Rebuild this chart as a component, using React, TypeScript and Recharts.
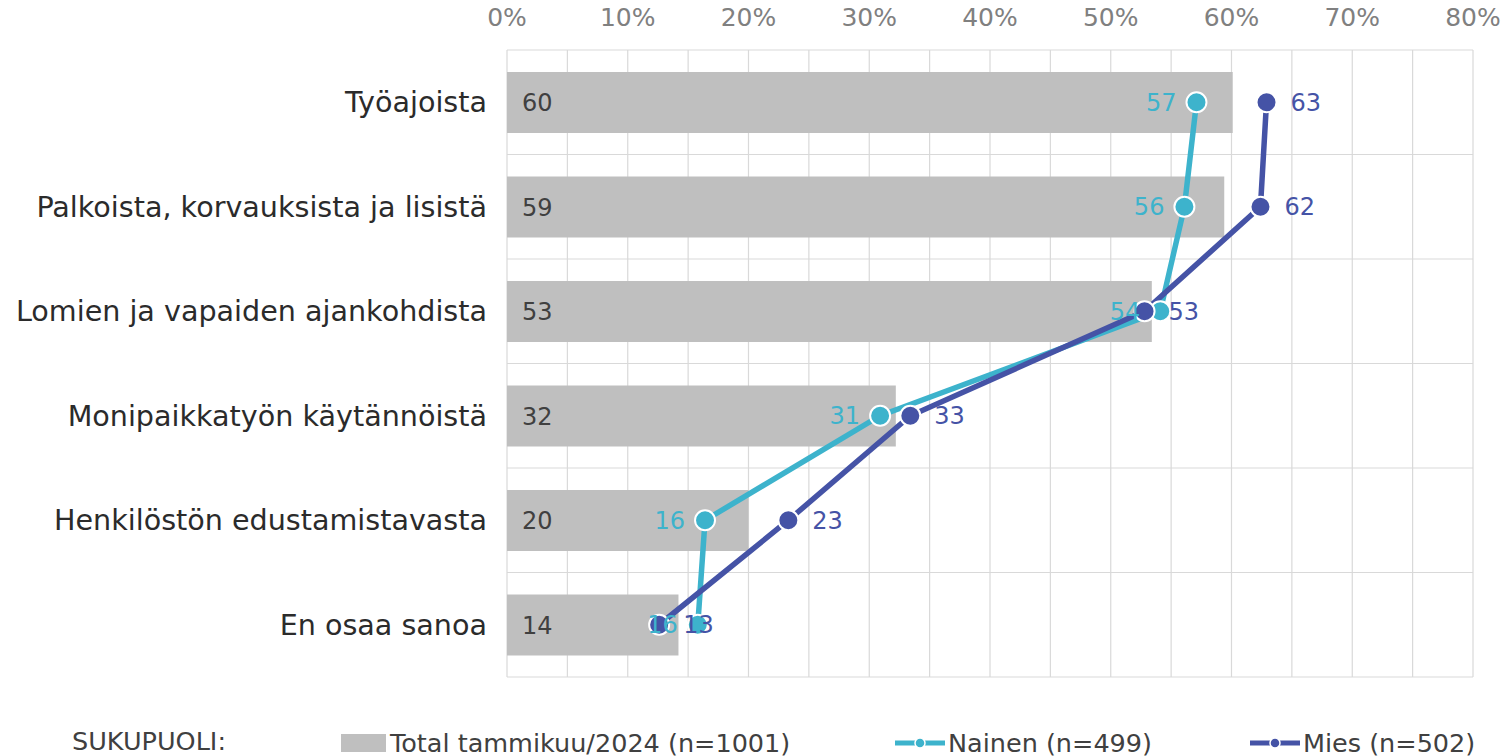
import React from "react";
import {
  ComposedChart,
  Bar,
  Line,
  XAxis,
  YAxis,
  CartesianGrid,
  LabelList,
} from "recharts";

const categories = [
  "Työajoista",
  "Palkoista, korvauksista ja lisistä",
  "Lomien ja vapaiden ajankohdista",
  "Monipaikkatyön käytännöistä",
  "Henkilöstön edustamistavasta",
  "En osaa sanoa",
];
const total = [60.1, 59.4, 53.4, 32.2, 20.0, 14.2];
const nainen = [57.1, 56.1, 54.1, 30.9, 16.4, 15.8];
const mies = [62.9, 62.4, 52.8, 33.4, 23.3, 12.6];
const xTicks = [0, 5, 10, 15, 20, 25, 30, 35, 40, 45, 50, 55, 60, 65, 70, 75, 80];

const GRAY = "#BFBFBF";
const CYAN = "#3DB3CC";
const BLUE = "#4553A6";
const FONT = "'DejaVu Sans', Verdana, sans-serif";

const data = categories.map((name, i) => ({
  name,
  total: total[i],
  nainen: nainen[i],
  mies: mies[i],
}));

const round = (v: any) => Math.round(Number(v));

function LegendBox() {
  const txt = { fontSize: 25.5, color: "#404040", fontFamily: FONT, lineHeight: "30px" };
  const lineIcon = (c: string) => (
    <svg width={50} height={20} style={{ marginRight: 3 }}>
      <line x1={0} y1={10} x2={50} y2={10} stroke={c} strokeWidth={5} />
      <circle cx={25} cy={10} r={5} fill={c} stroke="#fff" strokeWidth={1.5} />
    </svg>
  );
  return (
    <div style={{ position: "absolute", left: 0, top: 726, height: 30, width: 1507 }}>
      <span style={{ ...txt, position: "absolute", left: 72, top: 0 }}>SUKUPUOLI:</span>
      <div style={{ position: "absolute", left: 341, top: 2, display: "flex", alignItems: "center" }}>
        <div style={{ width: 45, height: 18, background: GRAY, marginRight: 4 }} />
        <span style={txt}>Total tammikuu/2024 (n=1001)</span>
      </div>
      <div style={{ position: "absolute", left: 895, top: 2, display: "flex", alignItems: "center" }}>
        {lineIcon(CYAN)}
        <span style={txt}>Nainen (n=499)</span>
      </div>
      <div style={{ position: "absolute", left: 1250, top: 2, display: "flex", alignItems: "center" }}>
        {lineIcon(BLUE)}
        <span style={txt}>Mies (n=502)</span>
      </div>
    </div>
  );
}

export default function App() {
  return (
    <div style={{ position: "absolute", left: 0, top: 0, width: 1507, height: 756, background: "#fff" }}>
      <ComposedChart
        width={1507}
        height={756}
        data={data}
        layout="vertical"
        margin={{ top: 20, right: 34, bottom: 79, left: 0 }}
        barCategoryGap={22}
      >
        <CartesianGrid
          stroke="#D9D9D9"
          strokeWidth={1.2}
          horizontalCoordinatesGenerator={({ offset }: any) =>
            categories.map((_, i) => offset.top + (offset.height * i) / categories.length).concat(offset.top + offset.height)
          }
        />
        <XAxis
          type="number"
          orientation="top"
          domain={[0, 80]}
          ticks={xTicks}
          interval={0}
          height={30}
          axisLine={false}
          tickLine={false}
          tickMargin={18}
          tickFormatter={(v: number) => (v % 10 === 0 ? `${v}%` : "")}
          tick={{ fill: "#808080", fontSize: 25, fontFamily: FONT }}
        />
        <YAxis
          type="category"
          dataKey="name"
          width={507}
          axisLine={false}
          tickLine={false}
          tickMargin={14}
          tick={{ fill: "#2b2b2b", fontSize: 28.6, fontFamily: FONT }}
        />
        <Bar dataKey="total" fill={GRAY} barSize={61} isAnimationActive={false}>
          <LabelList
            dataKey="total"
            position="insideLeft"
            offset={15}
            formatter={round}
            style={{ fill: "#404040", fontSize: 24, fontFamily: FONT }}
          />
        </Bar>
        <Line
          dataKey="nainen"
          stroke={CYAN}
          strokeWidth={5.5}
          dot={{ r: 10, fill: CYAN, stroke: "#fff", strokeWidth: 2 }}
          isAnimationActive={false}
        >
          <LabelList
            dataKey="nainen"
            position="left"
            offset={20}
            formatter={round}
            style={{ fill: CYAN, fontSize: 24, fontFamily: FONT }}
          />
        </Line>
        <Line
          dataKey="mies"
          stroke={BLUE}
          strokeWidth={5.5}
          dot={{ r: 10, fill: BLUE, stroke: "#fff", strokeWidth: 2 }}
          isAnimationActive={false}
        >
          <LabelList
            dataKey="mies"
            position="right"
            offset={24}
            formatter={round}
            style={{ fill: BLUE, fontSize: 24, fontFamily: FONT }}
          />
        </Line>
      </ComposedChart>
      <LegendBox />
    </div>
  );
}
